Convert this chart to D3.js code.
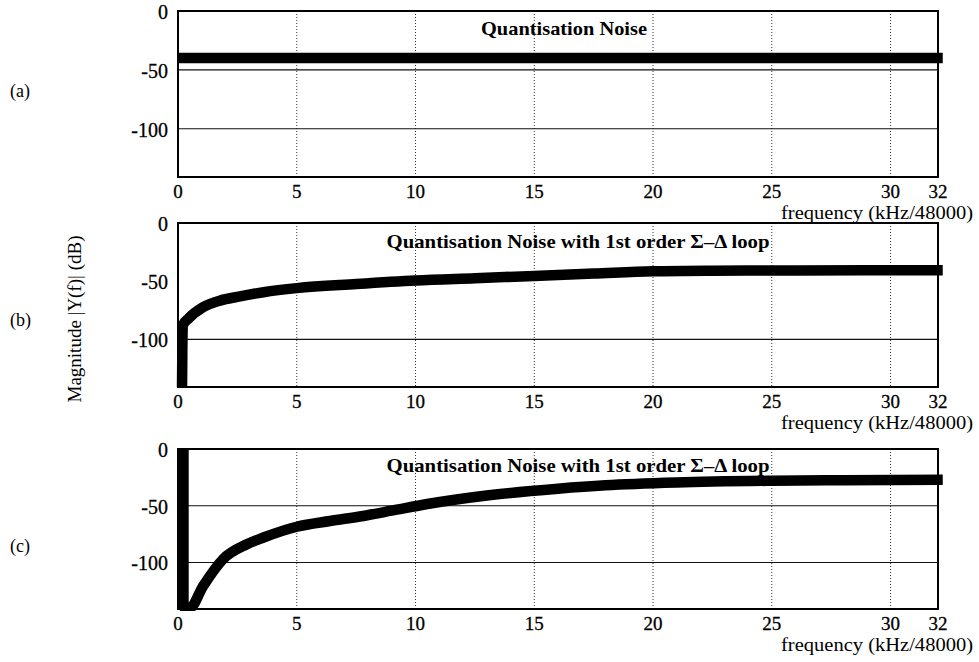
<!DOCTYPE html>
<html>
<head>
<meta charset="utf-8">
<script src="https://cdn.jsdelivr.net/npm/d3@7"></script>
<style>
  html, body { margin: 0; padding: 0; background: #fff; }
  svg { display: block; font-family: "Liberation Serif", "Times New Roman", serif; }
</style>
</head>
<body>
<svg id="chart" width="979" height="662"></svg>
<script>
// tick labels
const freqTicks = [0, 5, 10, 15, 20, 25, 30, 32];
const dbTicks = [0, -50, -100];
const freqGrid = [5, 10, 15, 20, 25, 30];

const panelLabels = ['(a)', '(b)', '(c)'];
const panelTitles = [
  'Quantisation Noise',
  'Quantisation Noise with 1st order \u03A3\u2013\u0394 loop',
  'Quantisation Noise with 1st order \u03A3\u2013\u0394 loop'
];
// horizontal grid lines visible in each panel
const dbGridA = [-50, -100];
const dbGridB = [-100];
const dbGridC = [-50, -100];

// series (x: frequency, y: dB)
const noiseAFreq = [0, 32.2];
const noiseADb = [-40, -40];

const noiseBFreq = [0.17, 0.2, 0.45, 1.05, 1.8, 2.5, 3.6, 5, 7.5, 10, 12.5, 15, 17.5, 20, 22.5, 26, 32.2];
const noiseBDb = [-141, -88, -82, -72.5, -66.5, -63.5, -59.5, -56, -52.5, -49.5, -47.5, -45.5, -43.5, -41.5, -41, -40.8, -40.6];

const noiseCFreq = [0.23, 0.23, 0.5, 1.05, 1.9, 2.9, 3.6, 5, 6.4, 7.8, 9.2, 10.5, 13, 16, 18, 21, 25, 28, 32.2];
const noiseCDb = [0, -139, -140, -121, -97, -84, -78, -68.5, -63.5, -59, -53.5, -48.5, -41, -35, -32, -29.5, -28, -27.5, -27];

const panels = [
  { top: 11, bottom: 177, grid: dbGridA, f: noiseAFreq, db: noiseADb },
  { top: 223, bottom: 387, grid: dbGridB, f: noiseBFreq, db: noiseBDb },
  { top: 449, bottom: 609, grid: dbGridC, f: noiseCFreq, db: noiseCDb }
];

const left = 178, right = 938;
const svg = d3.select('#chart');

const x = d3.scaleLinear().domain([0, 32]).range([left, right]);

panels.forEach((p, i) => {
  const y = d3.scaleLinear().domain([-141, 0]).range([p.bottom, p.top]);
  const g = svg.append('g');

  // vertical dotted grid
  g.selectAll('line.vg').data(freqGrid).enter().append('line')
    .attr('x1', d => x(d)).attr('x2', d => x(d))
    .attr('y1', p.top).attr('y2', p.bottom)
    .attr('stroke', '#333').attr('stroke-width', 1)
    .attr('stroke-dasharray', '1,2');

  // horizontal grid
  g.selectAll('line.hg').data(p.grid).enter().append('line')
    .attr('x1', left).attr('x2', right)
    .attr('y1', d => y(d)).attr('y2', d => y(d))
    .attr('stroke', '#111').attr('stroke-width', 1.2);

  // title
  g.append('text')
    .attr('x', i === 0 ? 564 : 578)
    .attr('y', i === 0 ? 35 : (i === 1 ? 248 : 472))
    .attr('text-anchor', 'middle')
    .attr('font-weight', 'bold')
    .attr('font-size', 19)
    .attr('textLength', i === 0 ? 166 : 383)
    .attr('lengthAdjust', 'spacingAndGlyphs')
    .text(panelTitles[i]);

  // the curve
  const pts = p.f.map((f, k) => [f, p.db[k]]);
  const clipId = 'clip' + i;
  svg.append('clipPath').attr('id', clipId).append('rect')
    .attr('x', left - 2).attr('y', p.top).attr('width', right - left + 12).attr('height', p.bottom - p.top + 2);
  g.append('path')
    .datum(pts)
    .attr('clip-path', `url(#${clipId})`)
    .attr('fill', 'none')
    .attr('stroke', '#000')
    .attr('stroke-width', 10.5)
    .attr('stroke-linejoin', 'round')
    .attr('d', d3.line().curve(d3.curveMonotoneX).x(d => x(d[0])).y(d => y(d[1])));

  // frame
  g.append('rect')
    .attr('x', left).attr('y', p.top)
    .attr('width', right - left).attr('height', p.bottom - p.top)
    .attr('fill', 'none').attr('stroke', '#000').attr('stroke-width', 2);

  // y tick labels
  g.selectAll('text.yt').data(dbTicks).enter().append('text')
    .attr('x', 168).attr('y', d => y(d)).attr('dy', '0.4em')
    .attr('text-anchor', 'end').attr('font-size', 20)
    .attr('stroke', '#000').attr('stroke-width', 0.3)
    .text(d => d);

  // x tick labels
  g.selectAll('text.xt').data(freqTicks).enter().append('text')
    .attr('x', d => x(d)).attr('y', p.bottom + 21)
    .attr('text-anchor', 'middle').attr('font-size', 19)
    .attr('stroke', '#000').attr('stroke-width', 0.3)
    .text(d => d);

  g.append('text')
    .attr('x', 973).attr('y', p.bottom + 42)
    .attr('text-anchor', 'end').attr('font-size', 18)
    .attr('textLength', 192)
    .attr('lengthAdjust', 'spacingAndGlyphs')
    .text('frequency (kHz/48000)');

  // panel letter
  g.append('text')
    .attr('x', 10).attr('y', [97, 326, 552][i])
    .attr('font-size', 18)
    .text(panelLabels[i]);
});

svg.append('text')
  .attr('transform', 'translate(81,319) rotate(-90)')
  .attr('text-anchor', 'middle')
  .attr('font-size', 19)
  .text('Magnitude |Y(f)| (dB)');
</script>
</body>
</html>
